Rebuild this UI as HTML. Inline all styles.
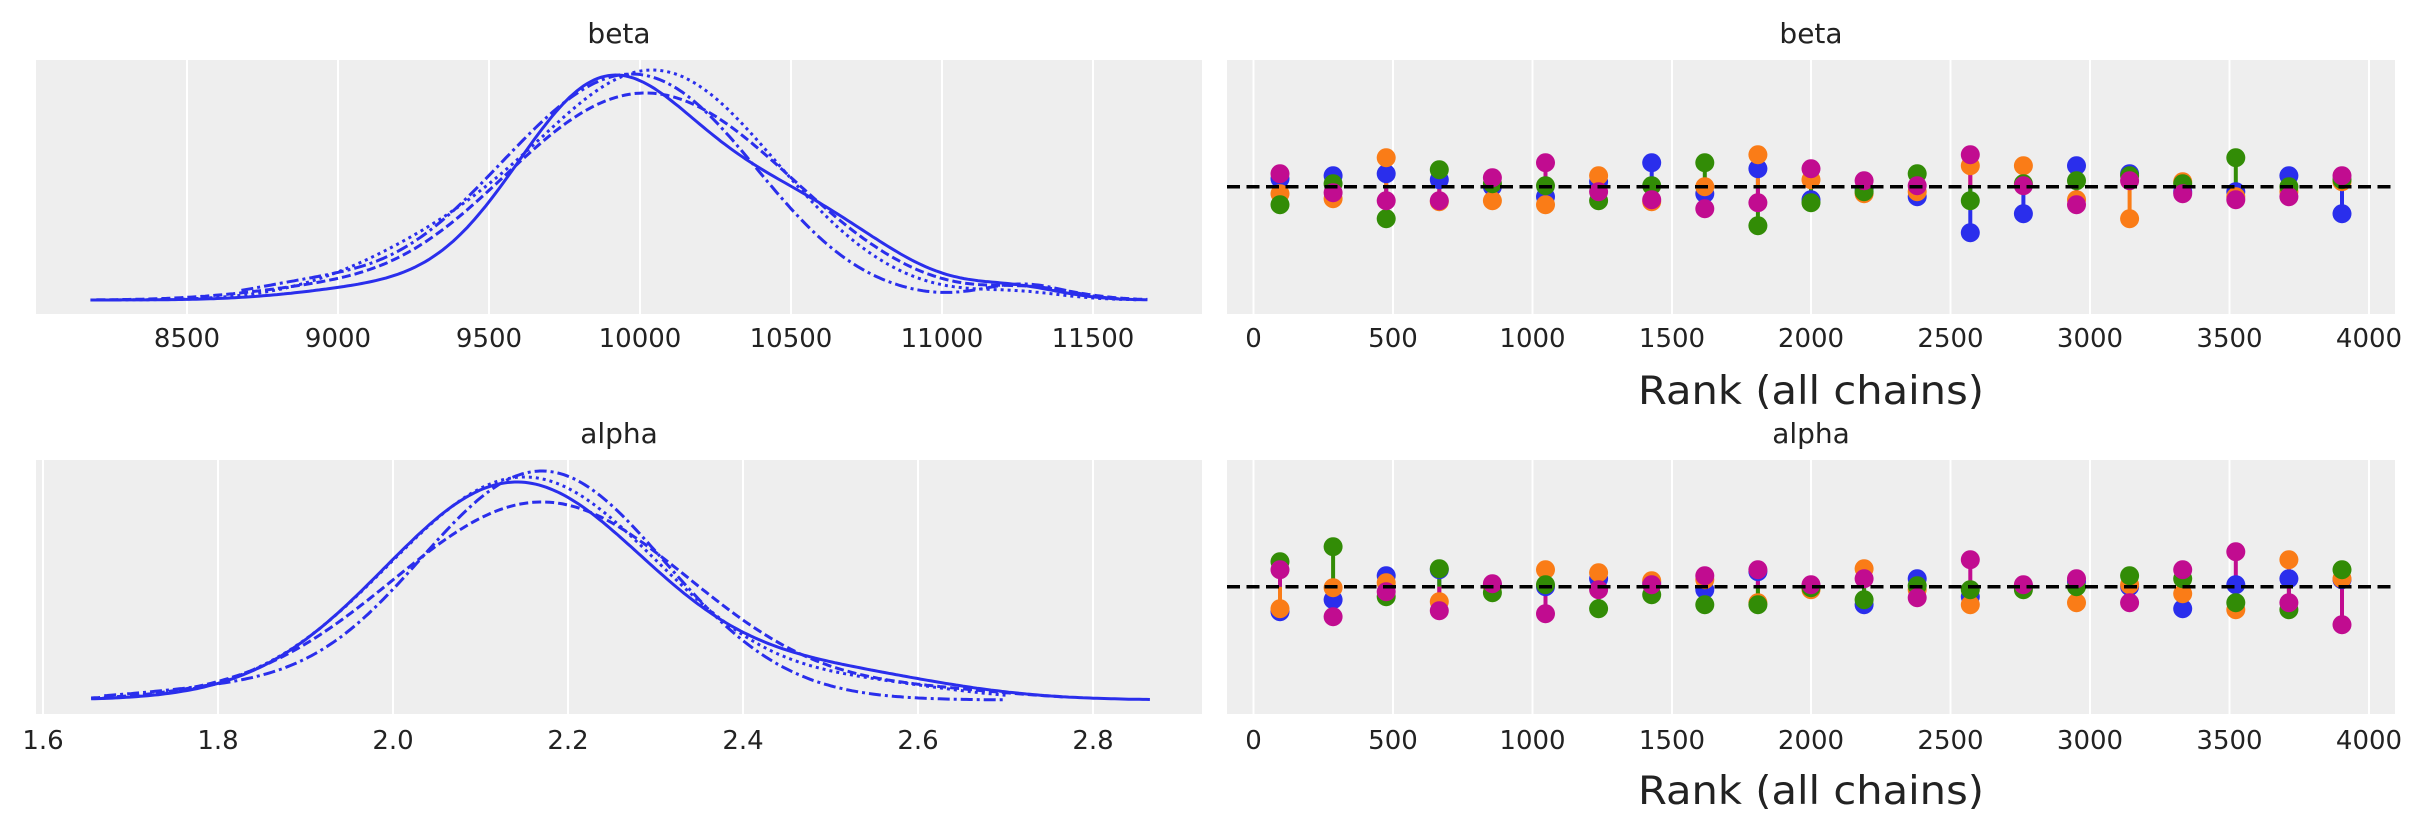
<!DOCTYPE html>
<html><head><meta charset="utf-8"><style>
html,body{margin:0;padding:0;background:#fff;}
svg{display:block;}
text{font-family:"DejaVu Sans","Liberation Sans",sans-serif;fill:#222;}
</style></head><body>
<svg id="s" width="2423" height="823" viewBox="0 0 2423 823" xmlns="http://www.w3.org/2000/svg">
<rect x="0" y="0" width="2423" height="823" fill="#fff"/>
<rect x="36" y="60" width="1166" height="254" fill="#eeeeee"/>
<rect x="36" y="460" width="1166" height="254" fill="#eeeeee"/>
<rect x="1227" y="60" width="1168" height="254" fill="#eeeeee"/>
<rect x="1227" y="460" width="1168" height="254" fill="#eeeeee"/>
<g id="grid" stroke="#fff" stroke-width="2"></g>
<g id="curves" fill="none" stroke="#2a2eec" stroke-width="3"></g>
<g id="ranks"></g>
<text x="619" y="43" font-size="28" text-anchor="middle">beta</text>
<text x="1811" y="43" font-size="28" text-anchor="middle">beta</text>
<text x="619" y="443" font-size="28" text-anchor="middle">alpha</text>
<text x="1811" y="443" font-size="28" text-anchor="middle">alpha</text>
<g font-size="26" text-anchor="middle">
<text x="187" y="347">8500</text><text x="338" y="347">9000</text><text x="489" y="347">9500</text>
<text x="640" y="347">10000</text><text x="791" y="347">10500</text><text x="942" y="347">11000</text><text x="1093" y="347">11500</text>
<text x="43" y="749">1.6</text><text x="218" y="749">1.8</text><text x="393" y="749">2.0</text>
<text x="568" y="749">2.2</text><text x="743" y="749">2.4</text><text x="918" y="749">2.6</text><text x="1093" y="749">2.8</text>
</g>
<g font-size="26" text-anchor="middle">
<text x="1253.5" y="347">0</text><text x="1393" y="347">500</text><text x="1532.5" y="347">1000</text><text x="1672" y="347">1500</text><text x="1811" y="347">2000</text><text x="1950.5" y="347">2500</text><text x="2090" y="347">3000</text><text x="2229.5" y="347">3500</text><text x="2369" y="347">4000</text>
<text x="1253.5" y="749">0</text><text x="1393" y="749">500</text><text x="1532.5" y="749">1000</text><text x="1672" y="749">1500</text><text x="1811" y="749">2000</text><text x="1950.5" y="749">2500</text><text x="2090" y="749">3000</text><text x="2229.5" y="749">3500</text><text x="2369" y="749">4000</text>
</g>
<text x="1811" y="404" font-size="39" text-anchor="middle" textLength="346" lengthAdjust="spacingAndGlyphs">Rank (all chains)</text>
<text x="1811" y="804" font-size="39" text-anchor="middle" textLength="346" lengthAdjust="spacingAndGlyphs">Rank (all chains)</text>
</svg>
<script>
var NS="http://www.w3.org/2000/svg";
function el(p,t,a){var e=document.createElementNS(NS,t);for(var k in a)e.setAttribute(k,a[k]);p.appendChild(e);return e;}
var grid=document.getElementById('grid');
[187,338,489,640,791,942,1093].forEach(function(x){el(grid,'line',{x1:x,x2:x,y1:60,y2:314});});
[43,218,393,568,743,918,1093].forEach(function(x){el(grid,'line',{x1:x,x2:x,y1:460,y2:714});});
[1253.5,1393,1532.5,1672,1811,1950.5,2090,2229.5,2369].forEach(function(x){el(grid,'line',{x1:x,x2:x,y1:60,y2:314});el(grid,'line',{x1:x,x2:x,y1:460,y2:714});});
var cur=document.getElementById('curves');
function curve(comps,lo,hi,X,base,peak,dash){
  var n=300,mx=0,vals=[];
  for(var i=0;i<=n;i++){var v=lo+(hi-lo)*i/n,f=0;comps.forEach(function(c){f+=c[0]*Math.exp(-0.5*Math.pow((v-c[1])/c[2],2));});vals.push([v,f]);if(f>mx)mx=f;}
  var d=vals.map(function(p,i){return (i?'L':'M')+X(p[0]).toFixed(1)+','+(base-(p[1]/mx)*(base-peak)).toFixed(1);}).join('');
  var a={d:d};if(dash)a['stroke-dasharray']=dash;el(cur,'path',a);
}
var XB=function(v){return 187+(v-8500)*0.302;};
var XA=function(v){return 43+(v-1.6)*875;};
curve([[1,9880,300],[0.42,10500,310],[0.05,11250,150],[0.05,9100,250]],8180,11680,XB,300,75,null);
curve([[1,10050,400],[0.15,9300,300],[0.03,11250,150]],8250,11650,XB,300,70,'3,4');
curve([[0.6,9800,380],[0.6,10250,390],[0.05,11300,150],[0.04,8900,250]],8200,11680,XB,300,93,'9,4');
curve([[0.6,10150,330],[0.6,9750,360],[0.07,11270,140],[0.06,8900,220]],8680,11600,XB,300,74,'12,4,3,4');
curve([[1,2.14,0.15],[0.12,2.5,0.13]],1.655,2.865,XA,700,482,null);
curve([[1,2.15,0.155],[0.06,2.55,0.1]],1.66,2.7,XA,700,477,'3,4');
curve([[1,2.17,0.17],[0.04,2.62,0.1]],1.655,2.77,XA,700,502,'9,4');
curve([[1,2.17,0.14],[0.04,1.8,0.1]],1.67,2.7,XA,700,471,'12,4,3,4');
var cols=['#2a2eec','#fa7c17','#328c06','#c10c90'];
var beta=[[-8,7,18,-13],[-11,12,-3,6],[-13,-29,32,14],[-7,15,-17,14],[0,14,-3,-9],[10,18,-1,-24],[-5,-11,14,5],[-24,15,-1,13],[7,0,-24,22],[-18,-32,39,16],[13,-7,16,-18],[2,7,5,-6],[10,5,-13,-1],[46,-21,14,-32],[27,-21,-3,-1],[-21,13,-6,18],[-13,32,-11,-6],[5,-5,-3,7],[5,10,-29,13],[-11,5,0,10],[27,-5,-7,-11]];
var alpha=[[25,22,-25,-17],[13,1,-40,30],[-11,-4,10,5],[-17,15,-18,24],[-2,0,6,-3],[0,-17,-2,27],[-8,-14,22,3],[-4,-6,8,-2],[3,-7,18,-11],[-15,16,18,-17],[0,3,1,-2],[18,-18,13,-8],[-8,3,-1,11],[10,18,3,-27],[-1,0,3,-2],[-5,16,0,-8],[0,-2,-11,16],[22,7,-8,-17],[-2,23,16,-35],[-8,-27,23,16],[-7,-8,-17,38]];
var R=document.getElementById('ranks');
function ranks(data,y0){
  for(var c=0;c<4;c++){data.forEach(function(b,i){var x=1280+53.1*i;el(R,'line',{x1:x,x2:x,y1:y0,y2:y0+b[c],stroke:cols[c],'stroke-width':4});});}
  for(var c=0;c<4;c++){data.forEach(function(b,i){var x=1280+53.1*i;el(R,'circle',{cx:x,cy:y0+b[c],r:9.5,fill:cols[c]});});}
  el(R,'line',{x1:1227,x2:2395,y1:y0,y2:y0,stroke:'#000','stroke-width':3.5,'stroke-dasharray':'13,6.5'});
}
ranks(beta,186.7);ranks(alpha,586.7);
</script>
</body></html>
